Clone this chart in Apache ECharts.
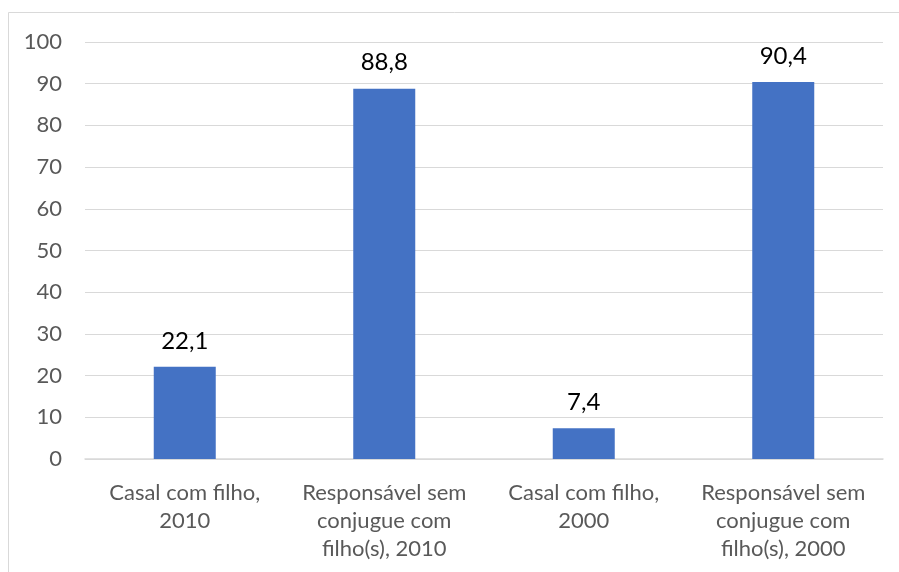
<!DOCTYPE html>
<html>
<head>
<meta charset="utf-8">
<script src="https://cdn.jsdelivr.net/npm/echarts@6/dist/echarts.min.js"></script>
<style>
  html, body { margin: 0; padding: 0; background: #fff; }
  #chart { width: 899px; height: 572px; }
</style>
</head>
<body>
<div id="chart"></div>
<script>
// Household types and share values
const categories = [
  'Casal com filho,\n2010',
  'Responsável sem\nconjugue com\nfilho(s), 2010',
  'Casal com filho,\n2000',
  'Responsável sem\nconjugue com\nfilho(s), 2000'
];
const values = [22.1, 88.8, 7.4, 90.4];
const yTicks = [0, 10, 20, 30, 40, 50, 60, 70, 80, 90, 100];

const FONT = 'Lato, "Open Sans", sans-serif';
const chart = echarts.init(document.getElementById('chart'), null, { renderer: 'canvas' });

chart.setOption({
  animation: false,
  backgroundColor: '#ffffff',
  graphic: [{
    type: 'rect',
    shape: { x: 8.5, y: 12.5, width: 900, height: 600 },
    style: { fill: 'none', stroke: '#d9d9d9', lineWidth: 1 },
    silent: true
  }],
  grid: { left: 85, right: 16, top: 42, bottom: 113, containLabel: false },
  xAxis: {
    type: 'category',
    data: categories,
    axisLine: { show: true, lineStyle: { color: '#d9d9d9', width: 1.5 } },
    axisTick: { show: false },
    axisLabel: {
      color: '#595959',
      fontFamily: FONT,
      fontSize: 22,
      lineHeight: 28,
      margin: 20,
      interval: 0
    }
  },
  yAxis: {
    type: 'value',
    min: yTicks[0],
    max: yTicks[yTicks.length - 1],
    interval: 10,
    axisLine: { show: false },
    axisTick: { show: false },
    splitLine: { lineStyle: { color: '#d9d9d9', width: 1 } },
    axisLabel: {
      color: '#595959',
      fontFamily: FONT,
      fontSize: 22,
      margin: 23
    }
  },
  series: [{
    type: 'bar',
    data: values,
    barWidth: 62,
    itemStyle: { color: '#4472c4' },
    label: {
      show: true,
      position: 'top',
      distance: 14,
      color: '#000000',
      fontFamily: FONT,
      fontSize: 24,
      formatter: p => String(p.value).replace('.', ',')
    }
  }]
});
</script>
</body>
</html>
